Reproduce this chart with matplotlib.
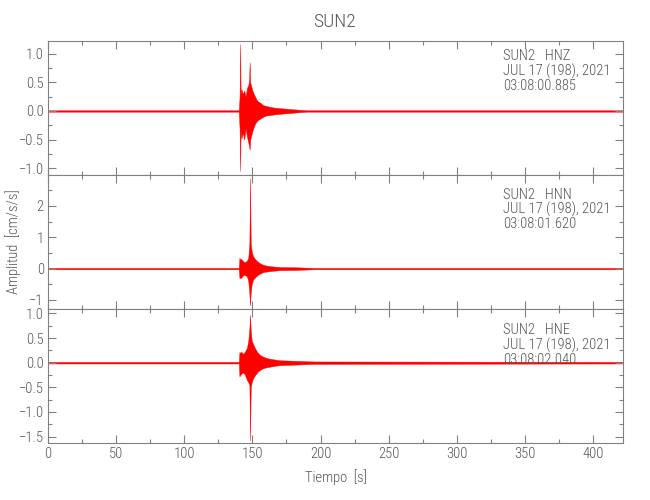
import matplotlib
matplotlib.use("Agg")
import matplotlib.pyplot as plt
from matplotlib.ticker import MultipleLocator, FuncFormatter

plt.rcParams['font.family'] = ['Roboto Condensed', 'DejaVu Sans']
plt.rcParams['font.weight'] = 300
plt.rcParams['axes.labelweight'] = 300

# ---- data (envelope of each trace) ----
station = "SUN2"
channels = ["HNZ", "HNN", "HNE"]
date_label = "JUL 17 (198), 2021"
start_times = ["03:08:00.885", "03:08:01.620", "03:08:02.040"]

t_hnz = [0, 140.0, 140.6, 141.0, 141.4, 142, 143, 144, 145, 146, 147, 147.6, 148.0,
         148.4, 149, 150, 151, 152, 153, 154, 156, 158, 160, 163, 166, 170, 175, 180, 190, 422]
up_hnz = [0.012, 0.012, 0.25, 1.17, 0.30, 0.38, 0.30, 0.36, 0.25, 0.40, 0.45, 0.55, 0.85,
          0.50, 0.45, 0.36, 0.30, 0.25, 0.20, 0.17, 0.14, 0.10, 0.09, 0.07, 0.06, 0.05, 0.04, 0.03, 0.012, 0.012]
lo_hnz = [-0.012, -0.012, -0.30, -1.05, -0.35, -0.48, -0.38, -0.50, -0.30, -0.45, -0.55, -0.62, -0.68,
          -0.50, -0.45, -0.35, -0.28, -0.22, -0.19, -0.16, -0.13, -0.10, -0.08, -0.07, -0.06, -0.05, -0.04, -0.03, -0.012, -0.012]

t_hnn = [0, 140.0, 140.5, 141, 142, 143, 144, 145, 146, 147, 147.8, 148.3, 148.8, 149.5,
         150.5, 152, 154, 156, 158, 161, 165, 170, 180, 195, 422]
up_hnn = [0.022, 0.022, 0.35, 0.30, 0.30, 0.25, 0.20, 0.22, 0.25, 0.35, 0.83, 2.88, 0.80, 0.55,
          0.40, 0.30, 0.22, 0.16, 0.12, 0.09, 0.07, 0.05, 0.045, 0.022, 0.022]
lo_hnn = [-0.022, -0.022, -0.30, -0.30, -0.28, -0.22, -0.20, -0.22, -0.25, -0.40, -0.80, -1.17, -0.75, -0.50,
          -0.35, -0.28, -0.20, -0.15, -0.11, -0.09, -0.07, -0.05, -0.045, -0.022, -0.022]

t_hne = [0, 140.0, 140.5, 141, 142, 143, 144, 145, 146, 147, 147.8, 148.3, 148.8, 149.5,
         150.5, 152, 154, 156, 158, 161, 165, 170, 180, 195, 422]
up_hne = [0.016, 0.016, 0.22, 0.20, 0.22, 0.18, 0.20, 0.25, 0.30, 0.45, 0.69, 0.97, 0.65, 0.45,
          0.38, 0.29, 0.20, 0.15, 0.12, 0.09, 0.07, 0.05, 0.04, 0.025, 0.016]
lo_hne = [-0.016, -0.016, -0.28, -0.25, -0.22, -0.20, -0.22, -0.28, -0.35, -0.40, -0.45, -1.58, -0.50, -0.40,
          -0.32, -0.25, -0.18, -0.14, -0.11, -0.09, -0.07, -0.05, -0.04, -0.025, -0.016]

traces = [(t_hnz, up_hnz, lo_hnz), (t_hnn, up_hnn, lo_hnn), (t_hne, up_hne, lo_hne)]
ylims = [(-1.12, 1.23), (-1.29, 2.99), (-1.62, 1.09)]
ymajor = [0.5, 1.0, 0.5]
yminor = [0.25, 0.5, 0.25]
ytick_fmt = ["%.1f", "%d", "%.1f"]
text_y = [0.935, 0.905, 0.895]

TXT = "#555555"
SPINE = "#808080"

fig = plt.figure(figsize=(6.5, 5.0), dpi=100)
left, width = 48 / 650, 575 / 650
bottoms = [1 - 175 / 500, 1 - 309 / 500, 1 - 442.5 / 500]
heights = [134.3 / 500, 134 / 500, 133.5 / 500]

axes = []
for i, (tt, up, lo) in enumerate(traces):
    ax = fig.add_axes([left, bottoms[i], width, heights[i]])
    axes.append(ax)
    ax.fill_between(tt, lo, up, color="#ff0000", linewidth=0.3, edgecolor="#ff0000")
    ax.set_xlim(0, 422)
    ax.set_ylim(*ylims[i])
    ax.xaxis.set_major_locator(MultipleLocator(50))
    ax.xaxis.set_minor_locator(MultipleLocator(25))
    ax.yaxis.set_major_locator(MultipleLocator(ymajor[i]))
    ax.yaxis.set_minor_locator(MultipleLocator(yminor[i]))
    fmt = ytick_fmt[i]
    ax.yaxis.set_major_formatter(FuncFormatter(
        lambda v, p, f=fmt: (f % v).replace("-", "\u2212") if abs(v) > 1e-9 else f % 0))
    ax.tick_params(which="both", direction="in", top=True, right=True,
                   colors=SPINE, labelcolor=TXT, labelsize=10.5, width=0.8)
    ax.tick_params(which="major", length=6, pad=3)
    ax.tick_params(which="minor", length=3)
    for s in ax.spines.values():
        s.set_color(SPINE)
        s.set_linewidth(0.8)
    if i < 2:
        ax.tick_params(labelbottom=False)
    ax.text(0.791, text_y[i],
            f"{station}   {channels[i]}\n{date_label}\n{start_times[i]}",
            transform=ax.transAxes, ha="left", va="top", fontsize=10.5,
            color=TXT, linespacing=1.02)

fig.text(335 / 650, 1 - 22 / 500, station, ha="center", va="center", fontsize=14, color=TXT)
axes[2].set_xlabel("Tiempo  [s]", fontsize=10.5, color=TXT, labelpad=6, fontweight=300)
fig.text(13 / 650, 1 - 242 / 500, "Amplitud  [cm/s/s]", rotation=90, ha="center", va="center",
         fontsize=10.5, color=TXT)

fig.savefig("out.png", dpi=100)
